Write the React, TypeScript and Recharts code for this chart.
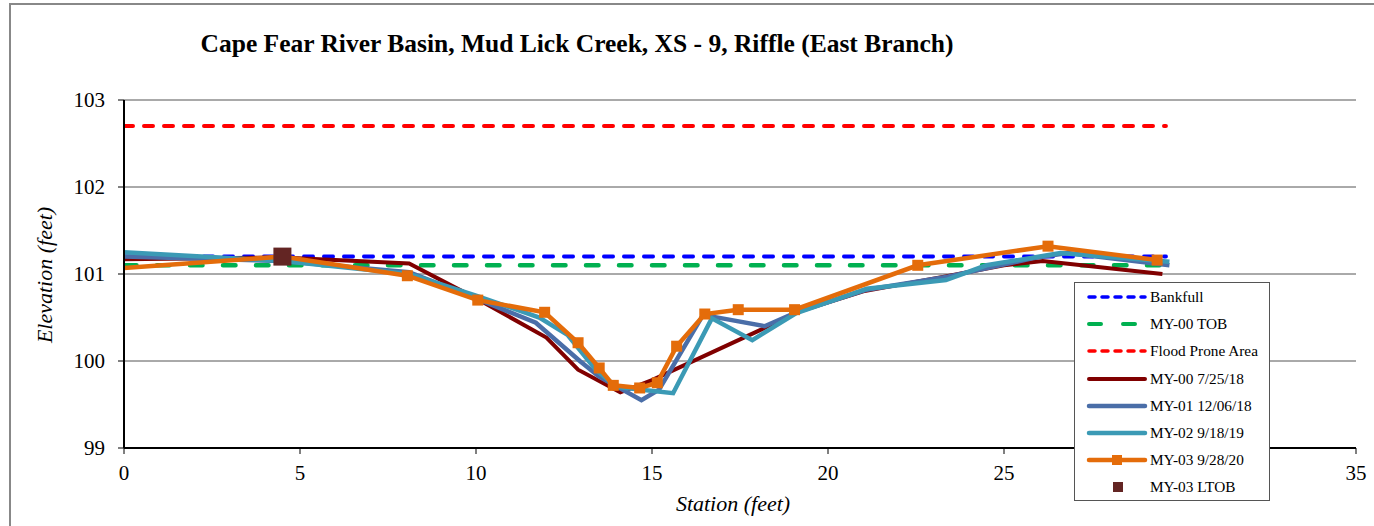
import React from 'react';
import { LineChart, Line, XAxis, YAxis, CartesianGrid, Legend } from 'recharts';

// Axis ticks
const majorX = [0, 5, 10, 15, 20, 25, 30, 35];
const minorX = Array.from({ length: 36 }, (_, i) => i);
const majorY = [99, 100, 101, 102, 103];
const minorY = [99.5, 100.5, 101.5, 102.5];

// Reference levels
const levelX = [0, 29.6];
const bankfullY = [101.2, 101.2];
const tobY = [101.1, 101.1];
const floodY = [102.7, 102.7];

// Surveyed cross sections (station, elevation)
const my00X = [0, 4.5, 8.1, 10.0, 12.0, 12.9, 14.1, 15.0, 18.1, 19.1, 21.0, 23.3, 25.0, 26.1, 29.5];
const my00Y = [101.17, 101.19, 101.12, 100.72, 100.27, 99.9, 99.64, 99.78, 100.36, 100.56, 100.8, 100.97, 101.1, 101.15, 101.0];

const my01X = [0, 4.5, 8.1, 10.0, 11.7, 12.95, 13.5, 14.7, 15.2, 16.45, 18.2, 19.1, 21.1, 23.4, 25.8, 26.8, 29.7];
const my01Y = [101.2, 101.15, 101.02, 100.72, 100.44, 100.0, 99.82, 99.55, 99.67, 100.53, 100.4, 100.56, 100.82, 100.97, 101.18, 101.24, 101.1];

const my02X = [0, 4.5, 8.1, 10.0, 11.8, 12.6, 13.4, 14.0, 15.6, 16.7, 17.85, 19.1, 21.1, 23.35, 24.5, 26.6, 29.7];
const my02Y = [101.25, 101.15, 101.0, 100.75, 100.5, 100.3, 99.9, 99.7, 99.63, 100.49, 100.24, 100.55, 100.83, 100.93, 101.1, 101.24, 101.14];

const my03X = [0, 4.5, 8.05, 10.05, 11.95, 12.9, 13.5, 13.9, 14.65, 15.15, 15.7, 16.5, 17.45, 19.05, 22.55, 26.25, 29.35];
const my03Y = [101.07, 101.2, 100.98, 100.7, 100.56, 100.21, 99.92, 99.72, 99.69, 99.75, 100.17, 100.54, 100.59, 100.59, 101.1, 101.32, 101.16];

const ltobX = [4.5];
const ltobY = [101.2];

const zip = (xs: number[], ys: number[]) => xs.map((x, i) => ({ x, y: ys[i] }));

const FONT = '"Liberation Serif", "Times New Roman", serif';

const C = {
  bankfull: '#0000ff',
  tob: '#00b050',
  flood: '#ff0000',
  my00: '#800000',
  my01: '#4a6ea8',
  my02: '#3b9ab5',
  my03: '#e46c0a',
  ltob: '#632523',
};

const legendItems = [
  { name: 'Bankfull', color: C.bankfull, dash: '6 7', width: 3.5, kind: 'line' },
  { name: 'MY-00 TOB', color: C.tob, dash: '12 22', width: 4, kind: 'line' },
  { name: 'Flood Prone Area', color: C.flood, dash: '6 7', width: 3.5, kind: 'line' },
  { name: 'MY-00 7/25/18', color: C.my00, dash: undefined, width: 4, kind: 'line' },
  { name: 'MY-01 12/06/18', color: C.my01, dash: undefined, width: 4.5, kind: 'line' },
  { name: 'MY-02 9/18/19', color: C.my02, dash: undefined, width: 4.5, kind: 'line' },
  { name: 'MY-03 9/28/20', color: C.my03, dash: undefined, width: 4.5, kind: 'marker' },
  { name: 'MY-03 LTOB', color: C.ltob, dash: undefined, width: 0, kind: 'square' },
];

const LegendBox = () => (
  <div
    style={{
      width: 194,
      height: 217,
      border: '1px solid #555',
      background: '#fff',
      fontFamily: FONT,
      fontSize: 15.3,
      color: '#000',
      position: 'relative',
    }}
  >
    {legendItems.map((it, i) => (
      <div
        key={it.name}
        style={{ position: 'absolute', left: 0, top: 4 + i * 27.2, height: 20, display: 'flex', alignItems: 'center', whiteSpace: 'nowrap' }}
      >
        <svg width={74} height={20}>
          {it.kind !== 'square' && (
            <line x1={14} y1={10} x2={70} y2={10} stroke={it.color} strokeWidth={it.width} strokeDasharray={it.dash} strokeLinecap="round" />
          )}
          {it.kind === 'marker' && <rect x={37} y={5} width={10} height={10} fill={it.color} />}
          {it.kind === 'square' && <rect x={38} y={5} width={10} height={10} fill={it.color} />}
        </svg>
        <span style={{ marginLeft: 1 }}>{it.name}</span>
      </div>
    ))}
  </div>
);

const OrangeSquare = (props: any) => {
  const { cx, cy, index } = props;
  if (index === 0 || cx == null) return <g key={`d-${index}`} />;
  return <rect key={`d-${index}`} x={cx - 5.5} y={cy - 5.5} width={11} height={11} fill={C.my03} />;
};

const LtobSquare = (props: any) => {
  const { cx, cy, index } = props;
  return <rect key={`l-${index}`} x={cx - 9} y={cy - 9} width={18} height={18} fill={C.ltob} />;
};

// the "30" label sits behind the legend box in the original
const xTickFmt = (v: number) => (v === 30 ? '' : String(v));

export default function App() {
  return (
    <div style={{ position: 'absolute', left: 0, top: 0, width: 1374, height: 526, overflow: 'hidden', background: '#fff' }}>
      <div style={{ position: 'absolute', left: 9, top: 3, width: 1500, height: 600, borderLeft: '2px solid #888', borderTop: '2px solid #888' }} />
      <div
        style={{
          position: 'absolute', left: 0, width: 1154, top: 28, textAlign: 'center',
          fontFamily: FONT, fontWeight: 'bold', fontSize: 25.5, lineHeight: '32px', color: '#000', whiteSpace: 'nowrap',
        }}
      >
        Cape Fear River Basin, Mud Lick Creek, XS - 9, Riffle (East Branch)
      </div>
      <div
        style={{
          position: 'absolute', left: 45, top: 275, transform: 'translate(-50%, -50%) rotate(-90deg)',
          fontFamily: FONT, fontStyle: 'italic', fontSize: 22, whiteSpace: 'nowrap', color: '#000',
        }}
      >
        Elevation (feet)
      </div>
      <div
        style={{
          position: 'absolute', left: 733, top: 504, transform: 'translate(-50%, -50%)',
          fontFamily: FONT, fontStyle: 'italic', fontSize: 22, whiteSpace: 'nowrap', color: '#000',
        }}
      >
        Station (feet)
      </div>
      <LineChart width={1374} height={526} margin={{ top: 100, right: 18, bottom: 38, left: 64 }}>
        <CartesianGrid horizontal vertical={false} stroke="#555" strokeWidth={1} />
        <XAxis
          xAxisId="minor" dataKey="x" type="number" domain={[0, 35]} ticks={minorX} interval={0}
          mirror tick={false} tickSize={5} axisLine={false} tickLine={{ stroke: '#000', strokeWidth: 1 }}
          allowDataOverflow height={0}
        />
        <XAxis
          dataKey="x" type="number" domain={[0, 35]} ticks={majorX} interval={0}
          tickSize={6} tickMargin={11} height={40} allowDataOverflow tickFormatter={xTickFmt}
          axisLine={{ stroke: '#000', strokeWidth: 2 }} tickLine={{ stroke: '#000', strokeWidth: 1 }}
          tick={{ fill: '#000', fontSize: 21, fontFamily: FONT }}
        />
        <XAxis
          xAxisId="top" orientation="top" dataKey="x" type="number" domain={[0, 35]} mirror
          tick={false} tickLine={false} axisLine={{ stroke: '#000', strokeWidth: 1.5 }} allowDataOverflow height={0}
        />
        <YAxis
          yAxisId="minor" type="number" domain={[99, 103]} ticks={minorY} interval={0}
          mirror tick={false} tickSize={5} axisLine={false} tickLine={{ stroke: '#000', strokeWidth: 1 }}
          allowDataOverflow width={0}
        />
        <YAxis
          type="number" domain={[99, 103]} ticks={majorY} interval={0}
          tickSize={6} tickMargin={13} width={60} allowDataOverflow
          axisLine={{ stroke: '#000', strokeWidth: 2 }} tickLine={{ stroke: '#000', strokeWidth: 1 }}
          tick={{ fill: '#000', fontSize: 21, fontFamily: FONT }}
        />
        <YAxis
          yAxisId="right" orientation="right" type="number" domain={[99, 103]} mirror
          tick={false} tickLine={false} axisLine={{ stroke: '#000', strokeWidth: 2 }} allowDataOverflow width={0}
        />
        <Legend
          layout="vertical" align="center" verticalAlign="middle"
          content={() => <LegendBox />}
          wrapperStyle={{ position: 'absolute', left: 1074, top: 282, width: 196, height: 219 }}
        />
        <Line data={zip(levelX, bankfullY)} dataKey="y" name="Bankfull" stroke={C.bankfull} strokeWidth={4}
          strokeDasharray="9 11" strokeLinecap="round" dot={false} isAnimationActive={false} />
        <Line data={zip(levelX, tobY)} dataKey="y" name="MY-00 TOB" stroke={C.tob} strokeWidth={4.5}
          strokeDasharray="12.5 20.5" strokeLinecap="round" dot={false} isAnimationActive={false} />
        <Line data={zip(levelX, floodY)} dataKey="y" name="Flood Prone Area" stroke={C.flood} strokeWidth={4}
          strokeDasharray="9 11" strokeLinecap="round" dot={false} isAnimationActive={false} />
        <Line data={zip(my00X, my00Y)} dataKey="y" name="MY-00 7/25/18" stroke={C.my00} strokeWidth={4}
          dot={false} isAnimationActive={false} />
        <Line data={zip(my01X, my01Y)} dataKey="y" name="MY-01 12/06/18" stroke={C.my01} strokeWidth={4.5}
          dot={false} isAnimationActive={false} />
        <Line data={zip(my02X, my02Y)} dataKey="y" name="MY-02 9/18/19" stroke={C.my02} strokeWidth={4.5}
          dot={false} isAnimationActive={false} />
        <Line data={zip(my03X, my03Y)} dataKey="y" name="MY-03 9/28/20" stroke={C.my03} strokeWidth={4.5}
          dot={OrangeSquare} isAnimationActive={false} />
        <Line data={zip(ltobX, ltobY)} dataKey="y" name="MY-03 LTOB" stroke="none"
          dot={LtobSquare} isAnimationActive={false} />
      </LineChart>
    </div>
  );
}
